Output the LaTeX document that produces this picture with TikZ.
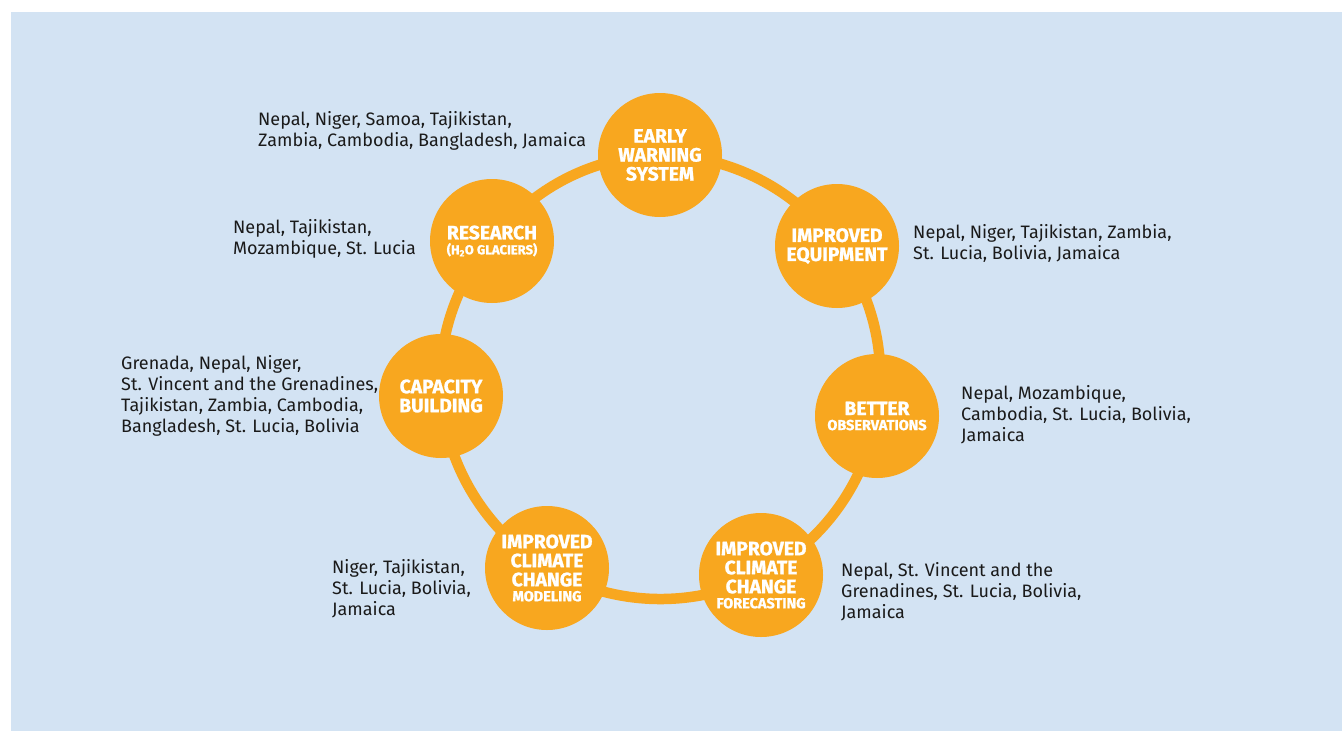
\documentclass[tikz,border=0pt]{standalone}
\usepackage{fontspec}
\setmainfont{Fira Sans}
\newfontfamily\lblfont{Fira Sans}[BoldFeatures={FakeBold=1.2}]
\definecolor{hubfill}{HTML}{F8A71F}
\definecolor{panel}{HTML}{D3E3F3}
\definecolor{ink}{HTML}{1A1A1A}
\pgfdeclarelayer{back}
\pgfdeclarelayer{bg}
\pgfsetlayers{back,bg,main}
\tikzset{
  hub/.style={circle, fill=hubfill, minimum size=124pt, inner sep=0pt, text=white, align=center,
    font=\lblfont\bfseries\fontsize{19.3}{19}\selectfont},
  info/.style={anchor=west, inner sep=0pt, align=left, text=ink, font=\fontsize{18}{21}\selectfont},
  ringseg/.style={draw=hubfill, line width=10.5pt, looseness=0.9},
}
\newcommand{\smalllbl}[1]{{\fontsize{14.5}{14}\selectfont #1}}
\begin{document}
\begin{tikzpicture}[x=1pt,y=-1pt]
\useasboundingbox (0,0) rectangle (1342,731);
\begin{pgfonlayer}{back}
\fill[white] (0,0) rectangle (1342,731);
\fill[panel] (11,12) rectangle (1342,731);
\end{pgfonlayer}

\node[hub] (ew) at (660,155) {EARLY\\WARNING\\SYSTEM};
\node[hub] (eq) at (837,246) {IMPROVED\\EQUIPMENT};
\node[hub] (ob) at (877,416) {BETTER\\[-4pt]\smalllbl{OBSERVATIONS}};
\node[hub] (fc) at (761,575) {IMPROVED\\CLIMATE\\CHANGE\\[-4pt]\smalllbl{FORECASTING}};
\node[hub] (md) at (547,568) {IMPROVED\\CLIMATE\\CHANGE\\[-4pt]\smalllbl{MODELING}};
\node[hub] (cb) at (441,396) {CAPACITY\\BUILDING};
\node[hub] (rs) at (492,241) {RESEARCH\\[-4pt]{\fontsize{13}{14}\selectfont(H\textsubscript{2}O GLACIERS)}};

\begin{pgfonlayer}{bg}
\draw[ringseg] (ew.center) to[bend left=27] (eq.center);
\draw[ringseg] (eq.center) to[bend left=23] (ob.center);
\draw[ringseg] (ob.center) to[bend left=26] (fc.center);
\draw[ringseg] (fc.center) to[bend left=29] (md.center);
\draw[ringseg] (md.center) to[bend left=27] (cb.center);
\draw[ringseg] (cb.center) to[bend left=22] (rs.center);
\draw[ringseg] (rs.center) to[bend left=26] (ew.center);
\end{pgfonlayer}

\node[info] (t1) at (258,131) {Nepal, Niger, Samoa, Tajikistan,\\Zambia, Cambodia, Bangladesh, Jamaica};
\node[info] (t2) at (233,239) {Nepal, Tajikistan,\\Mozambique, St. Lucia};
\node[info] (t3) at (121,396) {Grenada, Nepal, Niger,\\St. Vincent and the Grenadines,\\Tajikistan, Zambia, Cambodia,\\Bangladesh, St. Lucia, Bolivia};
\node[info] (t4) at (332,589) {Niger, Tajikistan,\\St. Lucia, Bolivia,\\Jamaica};
\node[info] (t5) at (913,243) {Nepal, Niger, Tajikistan, Zambia,\\St. Lucia, Bolivia, Jamaica};
\node[info] (t6) at (961,415) {Nepal, Mozambique,\\Cambodia, St. Lucia, Bolivia,\\Jamaica};
\node[info] (t7) at (841,592) {Nepal, St. Vincent and the\\Grenadines, St. Lucia, Bolivia,\\Jamaica};
\end{tikzpicture}
\end{document}
